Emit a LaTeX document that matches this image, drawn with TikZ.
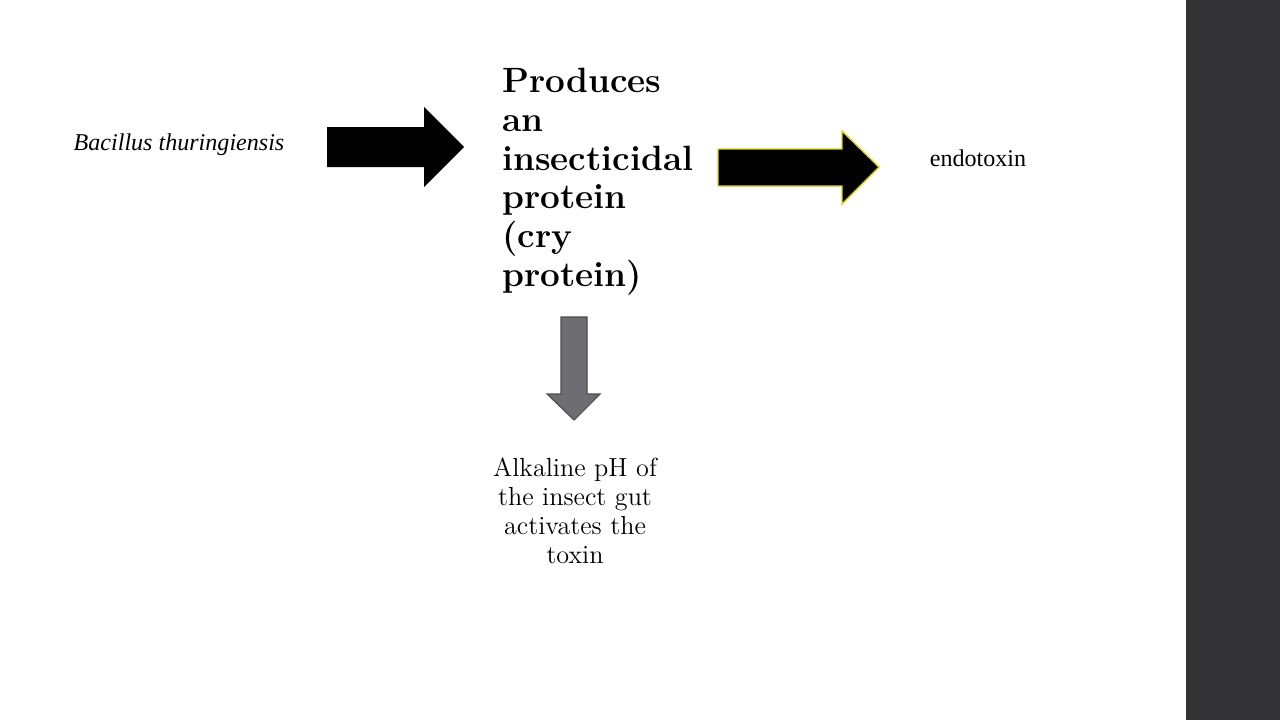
\documentclass[tikz,border=0pt]{standalone}
\usepackage{fontspec}
\newfontfamily\tnr{Liberation Serif}
\usetikzlibrary{positioning}
\definecolor{band}{HTML}{333335}
\definecolor{downgray}{HTML}{6D6D72}
\begin{document}
\begin{tikzpicture}[x=0.02cm,y=-0.02cm]
\tikzset{plain/.style={font=\tnr\fontsize{13.7}{16}\selectfont,inner sep=0pt},
  bigarrow/.style={fill=black,line join=miter}}
\useasboundingbox (0,0) rectangle (1280,720);
\fill[band] (1186,0) rectangle (1280,720);
% labels
\node[plain,font=\tnr\itshape\fontsize{13.7}{16}\selectfont] (bt) at (179,145) {Bacillus thuringiensis};
\node[plain] (endo) at (978,158) {endotoxin};
\node[inner sep=0pt,anchor=north west,align=left,font=\bfseries\fontsize{20}{22}\selectfont] (prod) at (502,68)
  {Produces\\an\\insecticidal\\protein\\(cry\\protein)};
\node[inner sep=0pt,align=center,font=\fontsize{14.9}{16.5}\selectfont] (alk) at (575,511)
  {Alkaline pH of\\the insect gut\\activates the\\toxin};
% arrows
\draw[bigarrow,draw=none] (327,127) -- (424,127) -- (424,107) -- (464,147) -- (424,187) -- (424,167) -- (327,167) -- cycle;
\draw[bigarrow,draw=yellow!85!black,line width=0.8pt] (718,149) -- (842,149) -- (842,131) -- (879,167) -- (842,204) -- (842,186) -- (718,186) -- cycle;
\draw[fill=downgray,draw=black!70,line width=0.6pt] (561,317) -- (587,317) -- (587,394) -- (600,394) -- (574,420) -- (547,394) -- (561,394) -- cycle;
\end{tikzpicture}
\end{document}
